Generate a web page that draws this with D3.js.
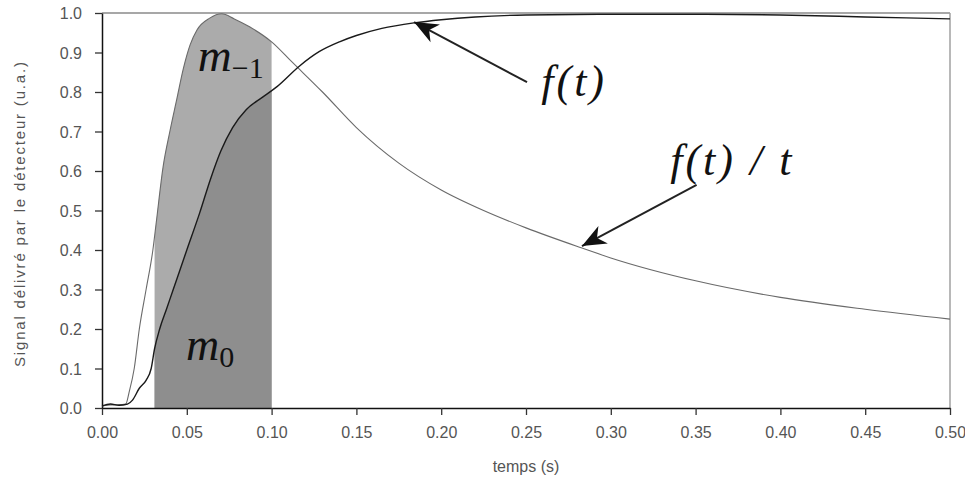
<!DOCTYPE html>
<html>
<head>
<meta charset="utf-8">
<script src="https://cdn.jsdelivr.net/npm/d3@7"></script>
<style>
  body { margin: 0; background: #fff; }
  svg { display: block; }
</style>
</head>
<body>
<div id="chart"></div>
<script>
// Signal from the detector f(t) and the weighted signal f(t)/t

const signalT = [0, 0.005, 0.010, 0.015, 0.018, 0.022, 0.026, 0.029, 0.031, 0.034, 0.038, 0.042, 0.050, 0.0576, 0.064,
  0.070, 0.077, 0.085, 0.0947, 0.103, 0.1165, 0.128, 0.140, 0.150, 0.165, 0.184, 0.200, 0.220, 0.250, 0.300, 0.350,
  0.400, 0.450, 0.500];
const signalV = [0.005, 0.01, 0.007, 0.01, 0.02, 0.05, 0.07, 0.10, 0.15, 0.20, 0.25, 0.30, 0.40, 0.494, 0.58,
  0.65, 0.71, 0.755, 0.787, 0.813, 0.866, 0.902, 0.927, 0.943, 0.961, 0.975, 0.983, 0.99, 0.995, 0.997, 0.997,
  0.995, 0.99, 0.985];

const weightedT = [0, 0.005, 0.010, 0.014, 0.016, 0.019, 0.022, 0.026, 0.030, 0.032, 0.036, 0.040, 0.044, 0.048,
  0.052, 0.056, 0.0635, 0.0706, 0.078, 0.087, 0.100, 0.112, 0.130, 0.150, 0.175, 0.200, 0.225, 0.250,
  0.283, 0.300, 0.350, 0.400, 0.450, 0.500];
const weightedV = [0.005, 0.008, 0.008, 0.01, 0.04, 0.10, 0.20, 0.30, 0.40, 0.47, 0.61, 0.70, 0.78, 0.86,
  0.92, 0.957, 0.987, 0.998, 0.985, 0.965, 0.927, 0.876, 0.80, 0.71, 0.62, 0.552, 0.50, 0.456,
  0.405, 0.38, 0.322, 0.28, 0.25, 0.225];

const xTicks = [0, 0.05, 0.10, 0.15, 0.20, 0.25, 0.30, 0.35, 0.40, 0.45, 0.50];
const yTicks = [0, 0.1, 0.2, 0.3, 0.4, 0.5, 0.6, 0.7, 0.8, 0.9, 1.0];
const shadeRange = [0.031, 0.10];

const width = 965, height = 480;
const margin = { top: 13, right: 15, bottom: 72, left: 102 };

const signal = signalT.map((t, i) => ({ t, v: signalV[i] }));
const weighted = weightedT.map((t, i) => ({ t, v: weightedV[i] }));

const x = d3.scaleLinear().domain([0, 0.5]).range([margin.left, width - margin.right]);
const y = d3.scaleLinear().domain([0, 1]).range([height - margin.bottom, margin.top]);

const svg = d3.select("#chart").append("svg")
  .attr("width", width)
  .attr("height", height);

// shaded integrals m-1 and m0
svg.append("clipPath").attr("id", "shade")
  .append("rect")
  .attr("x", x(shadeRange[0]))
  .attr("y", y(1))
  .attr("width", x(shadeRange[1]) - x(shadeRange[0]))
  .attr("height", y(0) - y(1));

const area = d3.area().curve(d3.curveMonotoneX).x(d => x(d.t)).y0(y(0)).y1(d => y(d.v));

svg.append("path")
  .datum(weighted)
  .attr("clip-path", "url(#shade)")
  .attr("fill", "#ababab")
  .attr("d", area);

svg.append("path")
  .datum(signal)
  .attr("clip-path", "url(#shade)")
  .attr("fill", "#8e8e8e")
  .attr("d", area);

// frame
svg.append("line")
  .attr("x1", x(0)).attr("x2", x(0.5))
  .attr("y1", y(1)).attr("y2", y(1))
  .attr("stroke", "#8a8a8a").attr("stroke-width", 1.5);
svg.append("line")
  .attr("x1", x(0.5)).attr("x2", x(0.5))
  .attr("y1", y(1)).attr("y2", y(0))
  .attr("stroke", "#a0a0a0").attr("stroke-width", 1.5);

// axes
const xAxis = svg.append("g")
  .attr("transform", `translate(0,${y(0)})`)
  .call(d3.axisBottom(x).tickValues(xTicks).tickFormat(d3.format(".2f")).tickSize(7).tickSizeOuter(0));
const yAxis = svg.append("g")
  .attr("transform", `translate(${x(0)},0)`)
  .call(d3.axisLeft(y).tickValues(yTicks).tickFormat(d3.format(".1f")).tickSize(7).tickSizeOuter(0));

for (const g of [xAxis, yAxis]) {
  g.select(".domain").attr("stroke", "#111").attr("stroke-width", 1.5);
  g.selectAll(".tick line").attr("stroke", "#333").attr("stroke-width", 1.3);
  g.selectAll(".tick text")
    .attr("fill", "#555")
    .style("font-family", "'Liberation Sans', Arial, sans-serif")
    .style("font-size", "16px");
}
xAxis.selectAll(".tick text").attr("dy", "1.25em");
yAxis.selectAll(".tick text").attr("x", -20).attr("dy", "0.36em");

// curves
const line = d3.line().curve(d3.curveMonotoneX).x(d => x(d.t)).y(d => y(d.v));

svg.append("path")
  .datum(weighted)
  .attr("fill", "none")
  .attr("stroke", "#6a6a6a")
  .attr("stroke-width", 1.1)
  .attr("d", line);

svg.append("path")
  .datum(signal)
  .attr("fill", "none")
  .attr("stroke", "#1a1a1a")
  .attr("stroke-width", 1.4)
  .attr("d", line);

// axis titles
svg.append("text")
  .attr("x", (x(0) + x(0.5)) / 2)
  .attr("y", 472)
  .attr("text-anchor", "middle")
  .attr("fill", "#555")
  .style("font-family", "'Liberation Sans', Arial, sans-serif")
  .style("font-size", "16px")
  .text("temps (s)");

svg.append("text")
  .attr("transform", `translate(25,${(y(0) + y(1)) / 2 + 4}) rotate(-90)`)
  .attr("text-anchor", "middle")
  .attr("fill", "#555")
  .attr("textLength", 305)
  .attr("lengthAdjust", "spacing")
  .style("font-family", "'Liberation Sans', Arial, sans-serif")
  .style("font-size", "15px")
  .text("Signal délivré par le  détecteur (u.a.)");

// arrows and labels
const arrows = [
  { from: [0.2506, 0.825], to: [0.184, 0.977] },
  { from: [0.3506, 0.565], to: [0.283, 0.41] }
];

for (const a of arrows) {
  const x1 = x(a.from[0]), y1 = y(a.from[1]), x2 = x(a.to[0]), y2 = y(a.to[1]);
  const ang = Math.atan2(y2 - y1, x2 - x1) * 180 / Math.PI;
  svg.append("line")
    .attr("x1", x1).attr("y1", y1).attr("x2", x2).attr("y2", y2)
    .attr("stroke", "#222").attr("stroke-width", 2);
  svg.append("path")
    .attr("transform", `translate(${x2},${y2}) rotate(${ang})`)
    .attr("d", "M0,0L-24,-10L-17,0L-24,10Z")
    .attr("fill", "#111");
}

const mathFont = "'Liberation Serif', 'Times New Roman', serif";

const labels = [
  { t: 0.259, v: 0.79, main: "f(t)", sub: null, size: 44 },
  { t: 0.335, v: 0.59, main: "f(t) / t", sub: null, size: 44 },
  { t: 0.0565, v: 0.852, main: "m", sub: "−1", size: 47 },
  { t: 0.0495, v: 0.122, main: "m", sub: "0", size: 46 }
];

for (const l of labels) {
  const txt = svg.append("text")
    .attr("x", x(l.t))
    .attr("y", y(l.v))
    .attr("fill", "#111")
    .style("font-family", mathFont)
    .style("font-style", "italic")
    .style("font-size", l.size + "px")
    .style("letter-spacing", l.sub ? "0px" : "3px")
    .style("white-space", "pre");
  txt.append("tspan").text(l.main);
  if (l.sub) {
    txt.append("tspan")
      .attr("dy", 7)
      .style("font-style", "normal")
      .style("font-size", "30px")
      .text(l.sub);
  }
}
</script>
</body>
</html>
